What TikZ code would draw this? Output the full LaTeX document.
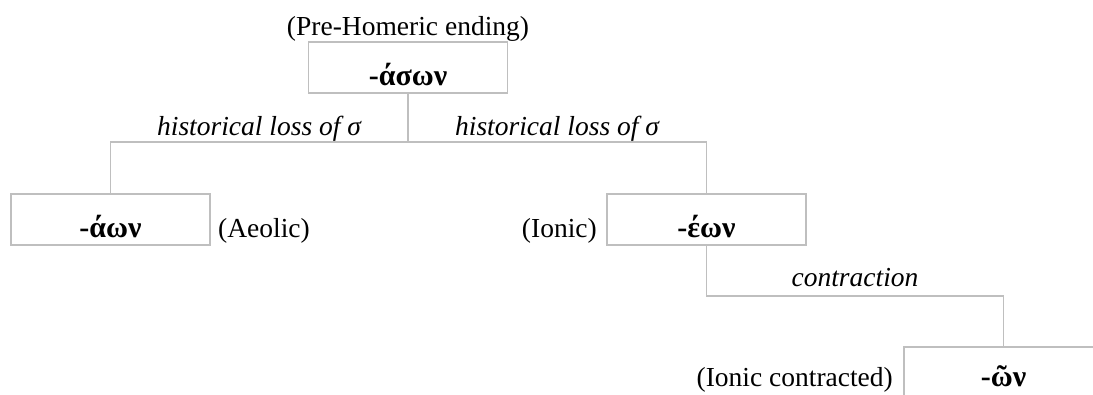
\documentclass[tikz,border=0pt]{standalone}
\usepackage{fontspec}
\setmainfont{Liberation Serif}
\definecolor{linegray}{RGB}{191,191,191}
\newcommand\myfs{\fontsize{27.5}{33}\selectfont}
\newcommand\myboxfs{\fontsize{30}{36}\selectfont}
\tikzset{
  box/.style={draw=linegray, line width=1.4pt, minimum width=199pt, minimum height=51pt,
    inner sep=0pt, text height=38pt, text depth=3pt, font=\bfseries\myboxfs},
  boxframe/.style={draw=linegray, line width=1.4pt, minimum width=199pt, minimum height=51pt,
    inner sep=0pt},
  boxtxt/.style={inner sep=0pt, anchor=base, font=\bfseries\myboxfs},
  conn/.style={draw=linegray, line width=1.4pt},
  lab/.style={inner sep=0pt, anchor=base, font=\itshape\myfs},
  note/.style={inner sep=0pt, font=\myfs}
}
\begin{document}
\begin{tikzpicture}[x=1pt,y=-1pt]
\useasboundingbox (0,0) rectangle (1093,394);
\begin{scope}
\clip (0,0) rectangle (1093,394);
\node[boxframe] (con) at (1003.5,372.5) {};
\end{scope}
\node[boxtxt] (contx) at (1003.5,386) {-ῶν};
\node[box] (top) at (408,67.5) {-άσων};
\node[box] (aeol) at (110.5,219.5) {-άων};
\node[box] (ion) at (706.5,219.5) {-έων};
\node[note, anchor=base] (pre) at (408,35) {(Pre-Homeric ending)};
\node[note, anchor=base west] (aeoltxt) at (218,237) {(Aeolic)};
\node[note, anchor=base east] (iontxt) at (597,237) {(Ionic)};
\node[note, anchor=base east] (contxt) at (893,386) {(Ionic contracted)};
\coordinate (j1) at (408,142);
\coordinate (j2) at (706.5,296);
\draw[conn] (top.south) -- (j1);
\draw[conn] (aeol.north) -- (aeol.north |- j1) -- (ion.north |- j1) -- (ion.north);
\draw[conn] (ion.south) -- (j2) -- (con.north |- j2) -- (con.north);
\node[lab] (l1) at (259,135) {historical loss of σ};
\node[lab] (l2) at (557,135) {historical loss of σ};
\node[lab] (l3) at (855,286) {contraction};
\end{tikzpicture}
\end{document}
